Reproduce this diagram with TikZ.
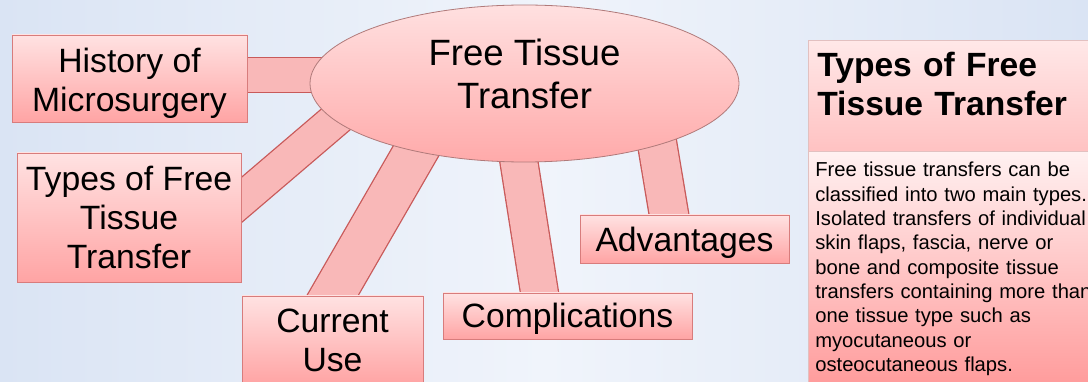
\documentclass[tikz,border=0pt]{standalone}
\usepackage{fontspec}
\setmainfont{Liberation Sans}
\usetikzlibrary{shapes.geometric,backgrounds,shadows}
\pgfdeclarelayer{bands}
\pgfsetlayers{background,bands,main}
\definecolor{boxtop}{HTML}{FFE2E2}
\definecolor{boxbot}{HTML}{FFA4A4}
\definecolor{boxline}{HTML}{D87C7C}
\definecolor{elltop}{HTML}{FFE0E0}
\definecolor{ellbot}{HTML}{FFAAAA}
\definecolor{ellline}{HTML}{B07A7A}
\definecolor{bandfill}{HTML}{F9B8B8}
\definecolor{bandline}{HTML}{C85A5A}
\definecolor{bgside}{HTML}{DAE4F4}
\definecolor{bgmid}{HTML}{F0F4FB}
\definecolor{ttop}{HTML}{FFE8E8}
\definecolor{tbot}{HTML}{FFC2C2}
\definecolor{btop}{HTML}{FFF1F1}
\definecolor{bbot}{HTML}{FF9B9B}
\definecolor{panelline}{HTML}{E2C0C0}
\begin{document}
\begin{tikzpicture}[x=1pt,y=-1pt,
  topic/.style={draw=boxline, line width=0.8pt, top color=boxtop, bottom color=boxbot,
    inner sep=0pt, align=center, font=\fontsize{33.7}{39}\selectfont,
    drop shadow={opacity=0.18, shadow xshift=1pt, shadow yshift=-1.5pt}},
  hub/.style={ellipse, draw=ellline, line width=0.8pt, top color=elltop, bottom color=ellbot,
    inner sep=0pt, minimum width=429pt, minimum height=157pt, align=center,
    font=\fontsize{36.6}{43}\selectfont},
  band/.style={line width=1.3pt, draw=bandline, double=bandfill, double distance=#1,
    shorten <=-16pt, shorten >=-25pt},
  paneltitle/.style={draw=panelline, line width=0.6pt, top color=ttop, bottom color=tbot,
    text width=271pt, inner xsep=9pt, inner ysep=0pt, minimum height=111pt, align=left,
    font=\bfseries\fontsize{33.6}{38.5}\selectfont},
  panelbody/.style={draw=panelline, line width=0.6pt, top color=btop, bottom color=bbot,
    text width=330pt, inner xsep=7pt, inner ysep=11pt, align=left,
    font=\fontsize{20.2}{24.3}\selectfont}
]
\useasboundingbox (0,0) rectangle (1088,382);
\begin{pgfonlayer}{background}
  \fill[left color=bgside, right color=bgside, middle color=bgmid] (0,0) rectangle (1088,382);
\end{pgfonlayer}

% central topic
\node[hub] (ell) at (524.5,83.5) {Free Tissue\\Transfer\rule[-20.5pt]{0pt}{0pt}};

% sub topics
\node[topic, minimum width=235pt, minimum height=87pt] (hist) at (129.5,78.5)
  {\rule{0pt}{33pt}History of\\Microsurgery};
\node[topic, minimum width=224pt, minimum height=129pt] (types) at (129,217.5)
  {Types of Free\\Tissue\\Transfer};
\node[topic, minimum width=181pt, minimum height=88pt] (cur) at (332.5,340)
  {Current\\Use};
\node[topic, minimum width=249pt, minimum height=46pt, text height=24pt, text depth=0pt]
  (comp) at (567.5,316) {Complications};
\node[topic, minimum width=209pt, minimum height=48pt, text height=26pt, text depth=0pt]
  (adv) at (684.5,239) {Advantages};

% connector bands
\begin{pgfonlayer}{bands}
  \draw[band=34pt] ([yshift=3.5pt]hist.east) -- ([yshift=3.5pt]hist.east -| ell.center);
  \draw[band=33pt] ([yshift=17.5pt]types.east) -- (ell.191);
  \draw[band=43pt] (cur.north) -- (ell.212);
  \draw[band=36.5pt] ([xshift=-28pt]comp.north) -- (ell.266);
  \draw[band=38pt] ([xshift=-15.5pt]adv.north) -- (ell.335);
\end{pgfonlayer}

% side panel
\node[paneltitle, anchor=north west] (ptitle) at (808,40)
  {Types of Free\\Tissue Transfer\rule[-23.5pt]{0pt}{0pt}};
\node[panelbody, anchor=north west] (pbody) at (808,151)
  {Free tissue transfers can be\\classified into two main types.\\Isolated transfers of individual\\skin flaps, fascia, nerve or\\bone and composite tissue\\transfers containing more than\\one tissue type such as\\myocutaneous or\\osteocutaneous flaps.};
\end{tikzpicture}
\end{document}
